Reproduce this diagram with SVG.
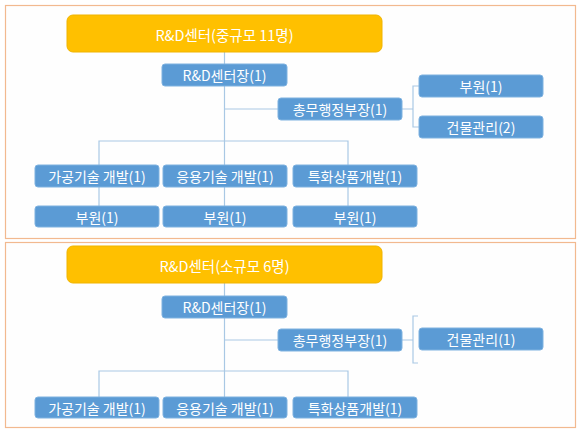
<svg xmlns="http://www.w3.org/2000/svg" width="586" height="433" viewBox="0 0 586 433">
<style>
.panel{fill:#fefefe;stroke:#f2b98f;stroke-width:1.2}
.top{fill:#ffc000;stroke:#f0b400;stroke-width:1}
.box{fill:#5b9bd5;stroke:#7fb2e0;stroke-width:1}
.t{font-family:"Noto Sans CJK KR","Noto Sans",sans-serif;fill:#ffffff;font-size:14px;text-anchor:middle;dominant-baseline:central}
.tt{font-size:14.5px}
.c{fill:none;stroke:#a9c8e4;stroke-width:1.2}
</style>
<rect class="panel" x="5.5" y="5.5" width="570" height="233"/>
<rect class="panel" x="5.5" y="242.5" width="570" height="185"/>
<g id="connectors">
<path class="c" d="M224.5 52V165M224.5 187V206M224.5 109H278M99 165V141H348V206M99 187V206"/>
<path class="c" d="M402 109H413M419 86H413V127H419"/>
<path class="c" d="M224.5 283V397M224.5 340H278M99 397V371H348V397"/>
<path class="c" d="M402 340H413M418 316H413V363H418"/>
</g>
<g id="n1"><rect class="top" x="67" y="15" width="315" height="37" rx="6"/><text class="t tt" x="224.5" y="34">R&amp;D센터(중규모 11명)</text></g>
<g id="n2"><rect class="box" x="162" y="64" width="125" height="22" rx="3"/><text class="t" x="224.5" y="75">R&amp;D센터장(1)</text></g>
<g id="n3"><rect class="box" x="278" y="98" width="124" height="22" rx="3"/><text class="t" x="340" y="109">총무행정부장(1)</text></g>
<g id="n4"><rect class="box" x="419" y="75" width="124" height="22" rx="3"/><text class="t" x="481" y="86">부원(1)</text></g>
<g id="n5"><rect class="box" x="419" y="116" width="124" height="22" rx="3"/><text class="t" x="481" y="127">건물관리(2)</text></g>
<g id="n6"><rect class="box" x="35" y="165" width="124" height="22" rx="3"/><text class="t" x="97" y="176">가공기술 개발(1)</text></g>
<g id="n7"><rect class="box" x="163" y="165" width="124" height="22" rx="3"/><text class="t" x="225" y="176">응용기술 개발(1)</text></g>
<g id="n8"><rect class="box" x="293" y="165" width="124" height="22" rx="3"/><text class="t" x="355" y="176">특화상품개발(1)</text></g>
<g id="n9"><rect class="box" x="35" y="206" width="124" height="21" rx="3"/><text class="t" x="97" y="216.5">부원(1)</text></g>
<g id="n10"><rect class="box" x="163" y="206" width="124" height="21" rx="3"/><text class="t" x="225" y="216.5">부원(1)</text></g>
<g id="n11"><rect class="box" x="293" y="206" width="124" height="21" rx="3"/><text class="t" x="355" y="216.5">부원(1)</text></g>
<g id="m1"><rect class="top" x="67" y="246" width="315" height="37" rx="6"/><text class="t tt" x="224.5" y="265">R&amp;D센터(소규모 6명)</text></g>
<g id="m2"><rect class="box" x="162" y="296" width="125" height="22" rx="3"/><text class="t" x="224.5" y="307">R&amp;D센터장(1)</text></g>
<g id="m3"><rect class="box" x="278" y="329" width="124" height="22" rx="3"/><text class="t" x="340" y="340">총무행정부장(1)</text></g>
<g id="m4"><rect class="box" x="419" y="328" width="124" height="22" rx="3"/><text class="t" x="481" y="339">건물관리(1)</text></g>
<g id="m5"><rect class="box" x="35" y="397" width="124" height="21" rx="3"/><text class="t" x="97" y="407.5">가공기술 개발(1)</text></g>
<g id="m6"><rect class="box" x="163" y="397" width="124" height="21" rx="3"/><text class="t" x="225" y="407.5">응용기술 개발(1)</text></g>
<g id="m7"><rect class="box" x="293" y="397" width="124" height="21" rx="3"/><text class="t" x="355" y="407.5">특화상품개발(1)</text></g>
</svg>
